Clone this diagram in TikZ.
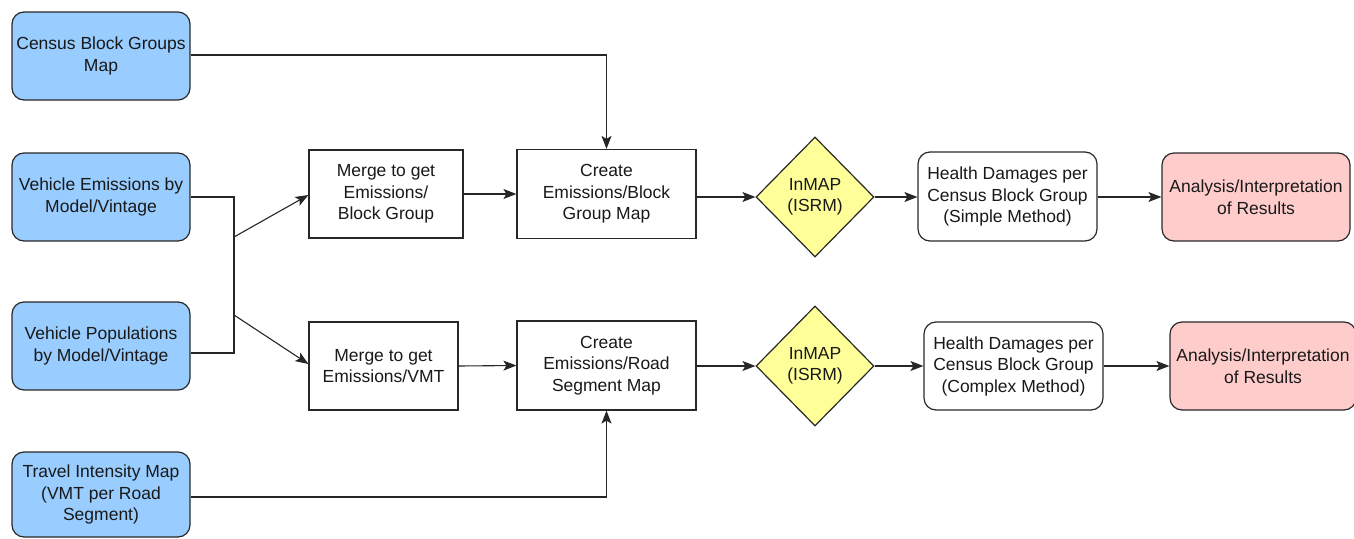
\documentclass[tikz,border=0pt]{standalone}
\usepackage{fontspec}
\setmainfont{Liberation Sans}
\usetikzlibrary{shapes.geometric,arrows.meta}
\definecolor{bluefill}{RGB}{153,204,255}
\definecolor{yellowfill}{RGB}{255,255,153}
\definecolor{pinkfill}{RGB}{255,204,204}
\definecolor{edgecol}{RGB}{40,40,40}
\tikzset{
  base/.style={draw=edgecol, line width=1.2pt, align=center, inner sep=0pt,
    font=\fontsize{17.5}{21.5}\selectfont, text=black!90},
  bluebox/.style={base, fill=bluefill, rounded corners=12pt},
  plainbox/.style={base, fill=white},
  roundbox/.style={base, fill=white, rounded corners=12pt},
  pinkbox/.style={base, fill=pinkfill, rounded corners=12pt},
  dia/.style={base, fill=yellowfill, diamond, aspect=1},
  conn/.style={line width=1.1pt, draw=black!85, -{Stealth[length=13pt,width=10pt,inset=3pt]}},
  line/.style={line width=1.1pt, draw=black!85}
}
\begin{document}
\begin{tikzpicture}[x=1pt,y=-1pt]
\useasboundingbox (0,0) rectangle (1354,538);
% left inputs
\node[bluebox, minimum width=178pt, minimum height=88pt] (cbg) at (101,56) {Census Block Groups\\Map};
\node[bluebox, minimum width=178pt, minimum height=88pt] (vem) at (101,197) {Vehicle Emissions by\\Model/Vintage};
\node[bluebox, minimum width=178pt, minimum height=88pt] (vpop) at (101,346) {Vehicle Populations\\by Model/Vintage};
\node[bluebox, minimum width=178pt, minimum height=85pt] (tim) at (101,494.5) {Travel Intensity Map\\(VMT per Road\\Segment)};
% merge
\node[plainbox, minimum width=154pt, minimum height=88pt] (m1) at (386,194) {Merge to get\\Emissions/\\Block Group};
\node[plainbox, minimum width=149pt, minimum height=88pt] (m2) at (383.5,366) {Merge to get\\Emissions/VMT};
% create
\node[plainbox, minimum width=179pt, minimum height=89pt] (c1) at (606.5,194) {Create\\Emissions/Block\\Group Map};
\node[plainbox, minimum width=179pt, minimum height=89pt] (c2) at (606.5,365.5) {Create\\Emissions/Road\\Segment Map};
% InMAP
\node[dia, minimum width=118pt, minimum height=120pt] (d1) at (815,197) {InMAP\\(ISRM)};
\node[dia, minimum width=118pt, minimum height=120pt] (d2) at (815,366) {InMAP\\(ISRM)};
% health
\node[roundbox, minimum width=179pt, minimum height=89pt] (h1) at (1007.5,196.5) {Health Damages per\\Census Block Group\\(Simple Method)};
\node[roundbox, minimum width=179pt, minimum height=88pt] (h2) at (1013.5,366) {Health Damages per\\Census Block Group\\(Complex Method)};
% analysis
\node[pinkbox, minimum width=188pt, minimum height=88pt] (a1) at (1256,197) {Analysis/Interpretation\\of Results};
\node[pinkbox, minimum width=186pt, minimum height=88pt] (a2) at (1263,366) {Analysis/Interpretation\\of Results};
% junction coordinates
\coordinate (jt) at (234,197);
\coordinate (jb) at (234,353);
\coordinate (j1) at (234,237);
\coordinate (j2) at (234,315);
% connectors
\draw[conn] (cbg.east |- 0,55) -| (c1.north);
\draw[line] (vem.east |- jt) -- (jt) -- (jb) -- (vpop.east |- jb);
\draw[conn] (j1) -- (m1.west |- 0,195);
\draw[conn] (j2) -- (m2.west |- 0,364);
\draw[conn] (m1.east) -- (c1.west);
\draw[conn] (m2.east) -- (c2.west);
\draw[conn] (c1.east |- d1) -- (d1.west);
\draw[conn] (c2.east |- d2) -- (d2.west);
\draw[conn] (d1.east) -- (h1.west |- d1);
\draw[conn] (d2.east) -- (h2.west);
\draw[conn] (h1.east |- a1) -- (a1.west);
\draw[conn] (h2.east) -- (a2.west);
\draw[conn] (tim.east |- 0,497) -| (c2.south);
\end{tikzpicture}
\end{document}
